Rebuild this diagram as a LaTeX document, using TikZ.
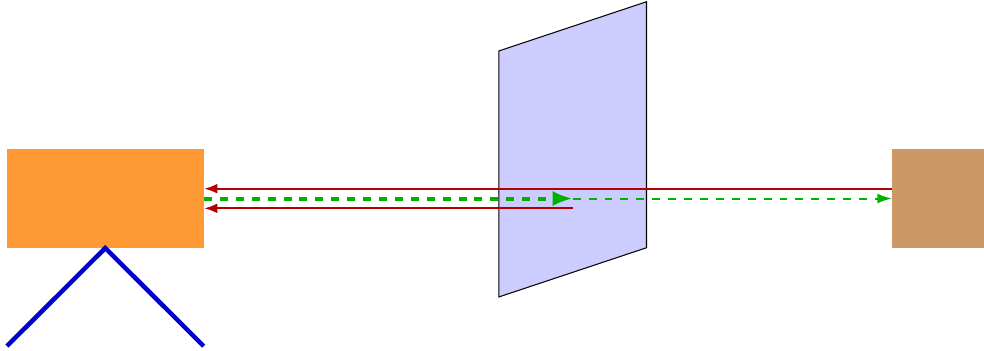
\documentclass[tikz,border=0pt]{standalone}
\usepackage{tikz}
\usetikzlibrary{arrows.meta}
\definecolor{boxorange}{RGB}{255,153,51}
\definecolor{boxbrown}{RGB}{204,153,102}
\definecolor{panefill}{RGB}{204,204,255}
\definecolor{rayred}{RGB}{179,0,0}
\definecolor{raygreen}{RGB}{0,178,0}
\definecolor{standblue}{RGB}{0,0,204}
\tikzset{
	solidbox/.style={rectangle, inner sep=0pt, minimum height=2cm},
	redray/.style={rayred, line width=1.3pt, -{Latex[length=.27cm,width=.2cm]}},
	greenthin/.style={raygreen, yshift=.3pt, line width=1.15pt, dash pattern=on 4.6pt off 4.6pt, -{Latex[length=.3cm,width=.2cm]}},
	greenthick/.style={raygreen, yshift=.3pt, line width=2.3pt, dash pattern=on 4.6pt off 4.6pt, -{Latex[length=.41cm,width=.31cm]}}
}

\begin{document}
\begin{tikzpicture}[x=1cm,y=1cm]
			\useasboundingbox (-0.14,-0.095) rectangle (19.86,7.035);
			\node[solidbox, fill=boxorange, minimum width=4cm] (source) at (2,3) {};
			\node[solidbox, fill=boxbrown, minimum width=1.86cm] (target) at (18.93,3) {};
			\draw[standblue, line width=2.6pt] (0,0) -- (source.south) -- (4,0);
			\draw[fill=panefill, line width=0.6pt] (10,1) -- (13,2) -- (13,7) -- (10,6) -- cycle;
			\coordinate (focus) at (11.5,3);
			\draw[redray] ([yshift=.2cm]target.west) -- ([yshift=.2cm]source.east);
			\draw[redray] ([yshift=-.2cm]focus) -- ([yshift=-.2cm]source.east);
			\draw[greenthick] (source.east) -- (focus);
			\draw[greenthin] (focus) -- (target.west);
		\end{tikzpicture}
\end{document}
